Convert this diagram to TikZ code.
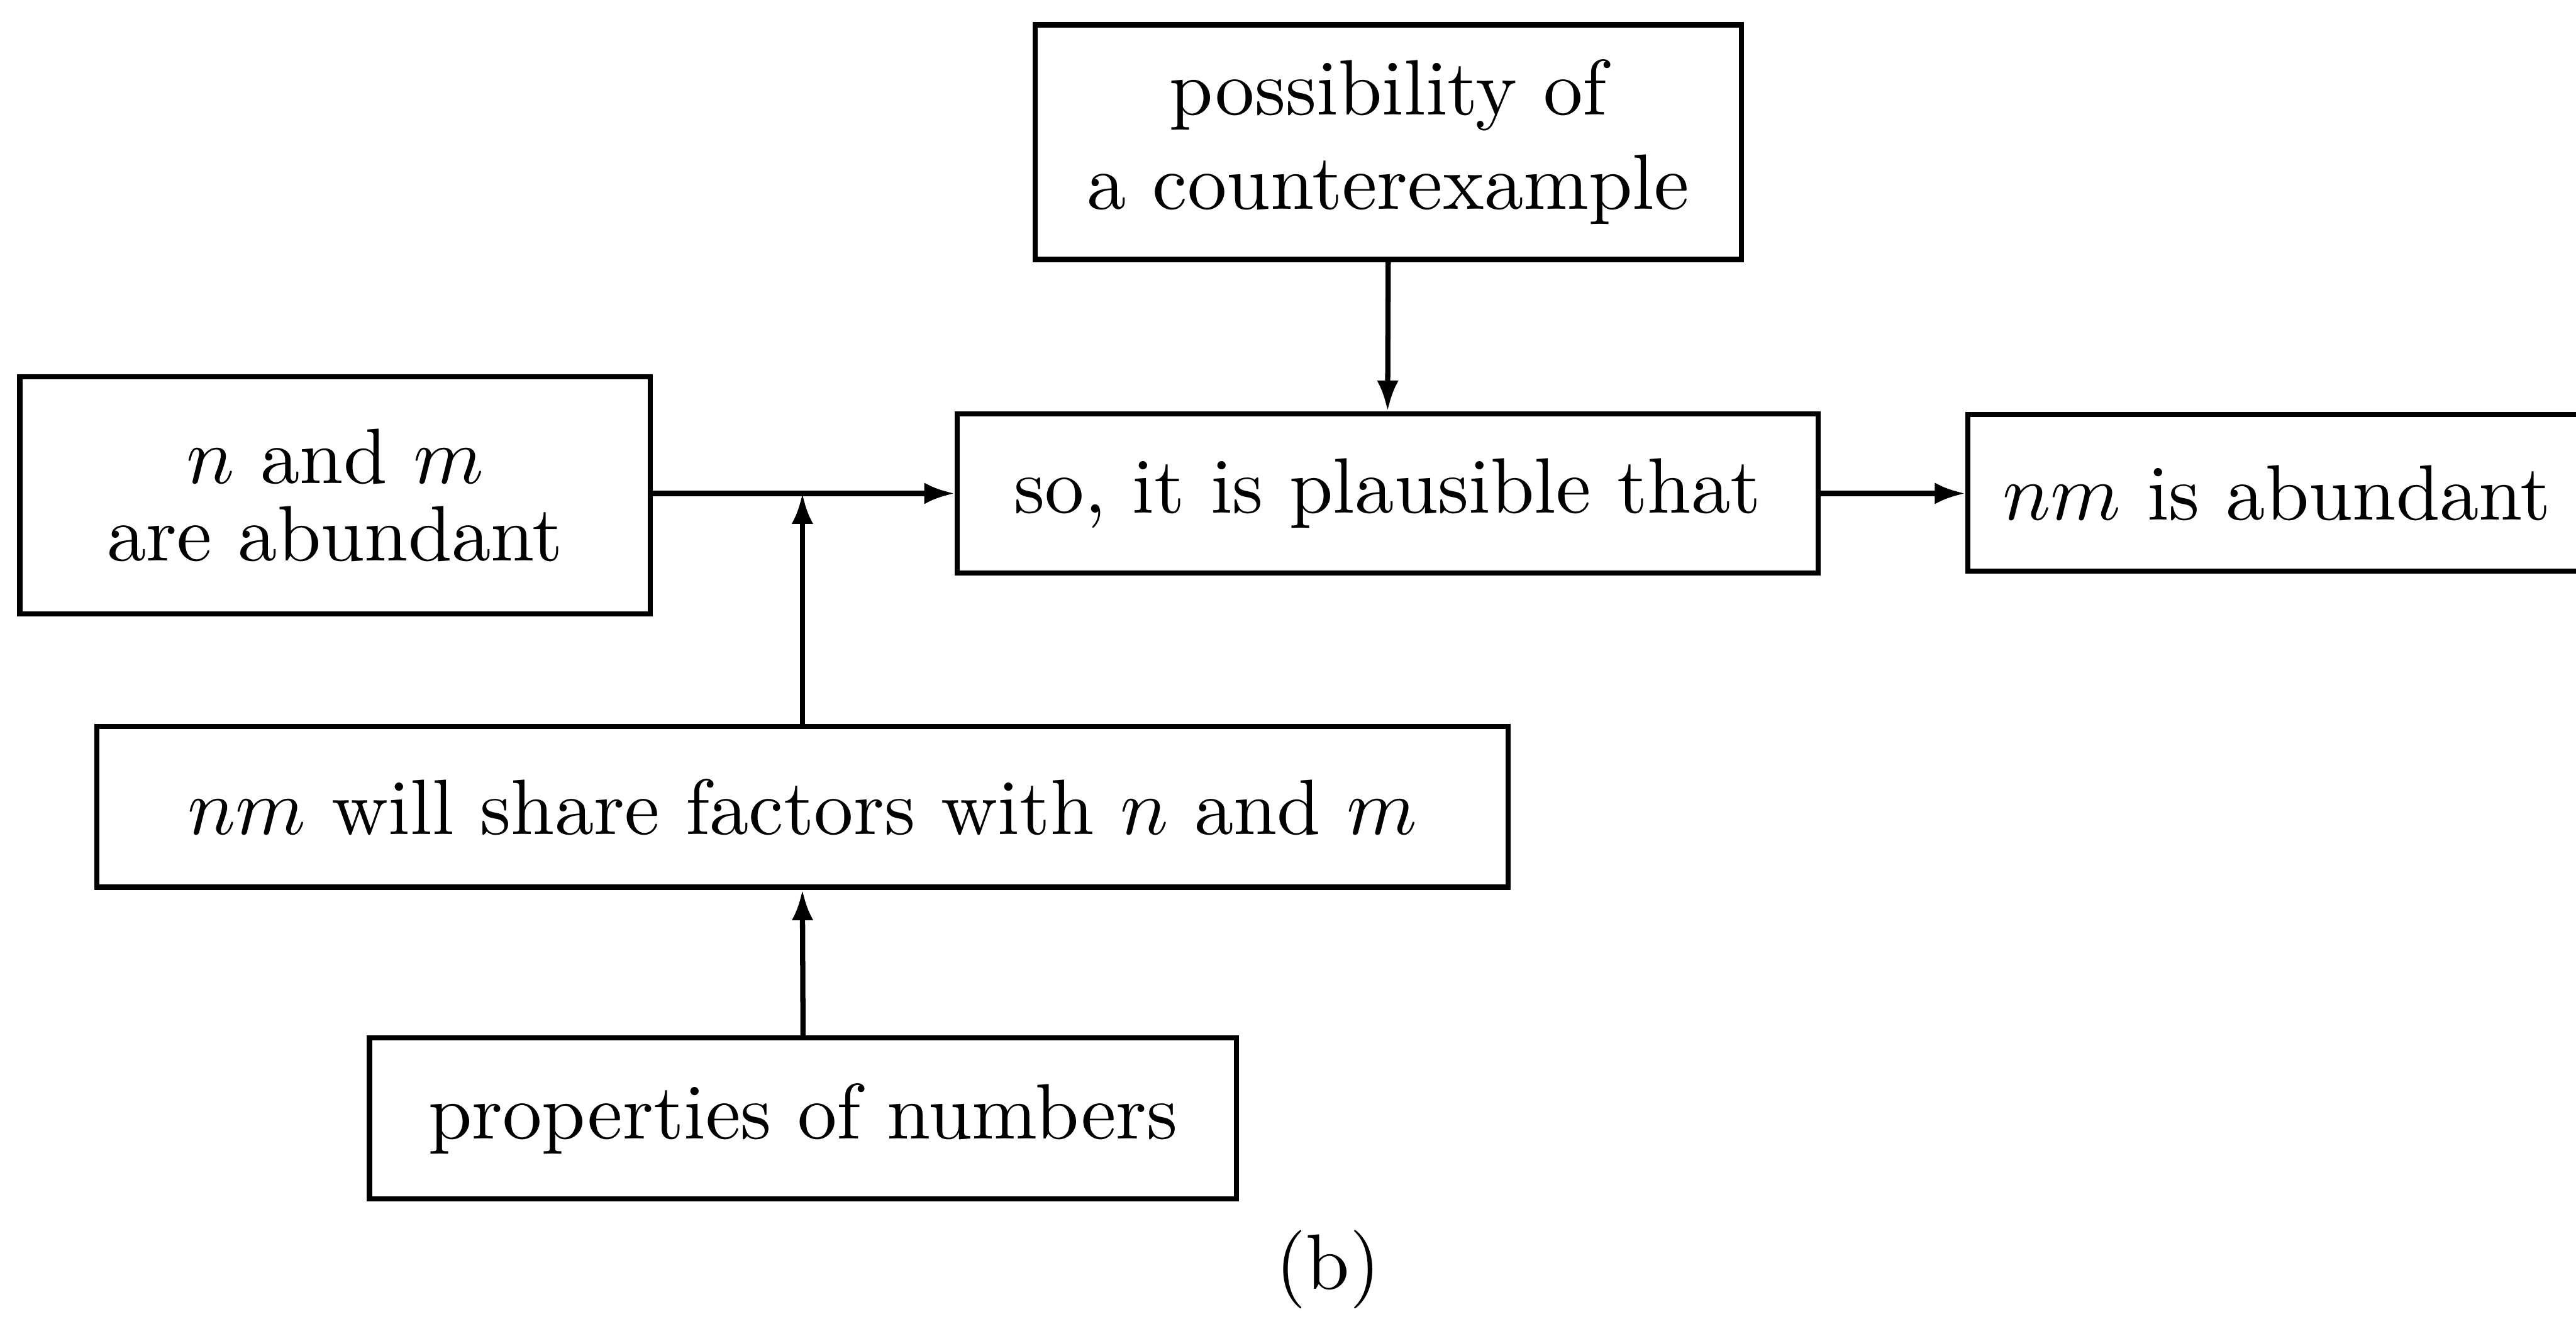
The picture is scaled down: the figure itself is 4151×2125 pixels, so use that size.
\documentclass[tikz,border=0pt]{standalone}
\usepackage{fontspec}
\usetikzlibrary{arrows.meta}
\begin{document}
\begin{tikzpicture}[x=0.0775pt,y=-0.0775pt,
  font=\fontsize{9.8pt}{11.8pt}\selectfont,
  box/.style 2 args={draw, line width=0.65pt, inner sep=0pt, align=center,
    minimum width=#1*0.0775pt, minimum height=#2*0.0775pt},
  arr/.style={line width=0.65pt, -{Latex[length=3.8pt,width=2.7pt]}}]
\useasboundingbox (0,0) rectangle (4151,2125);
\node[box={1138}{378}] (top) at (2237,229) {possibility of\\a counterexample};
\node[box={1016}{382}] (left) at (540,798) {$n$ and $m$\\[-2.1pt]are abundant};
\node[box={1387}{257}] (ctr) at (2236,795) {so, it is plausible that};
\node[box={996}{253}] (right) at (3669,794) {$nm$ is abundant};
\node[box={2274}{259}] (mid) at (1293,1300) {$nm$ will share factors with $n$ and $m$};
\node[box={1397}{259}] (bot) at (1294,1802) {properties of numbers};
\node (lab) at (2140,2045) {(b)};
\draw[arr] (left.east |- ctr.west) -- (ctr.west);
\draw[arr] (mid.north) -- (mid.north |- ctr.west);
\draw[arr] (top.south) -- (ctr.north);
\draw[arr] (ctr.east) -- (ctr.east -| right.west);
\draw[arr] (bot.north) -- (mid.south);
\end{tikzpicture}
\end{document}
